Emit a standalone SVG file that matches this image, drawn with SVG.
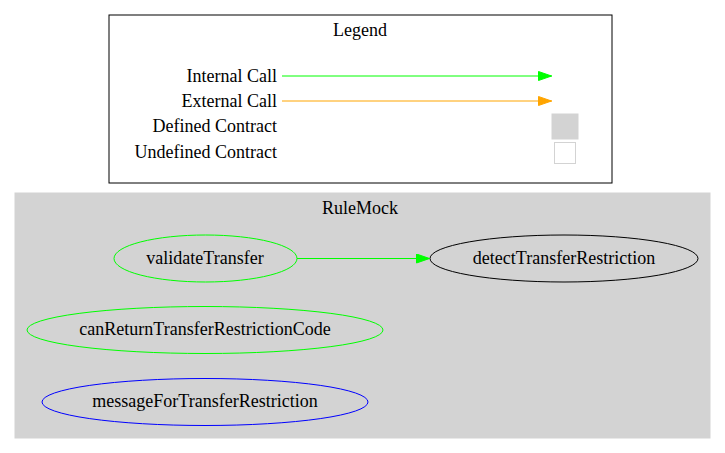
<svg xmlns="http://www.w3.org/2000/svg" width="725" height="453" viewBox="0 0 725 453">
<style>
text{font-family:'Liberation Serif','Times New Roman',Times,serif;font-size:18px;fill:#000}
.c{text-anchor:middle}
.r{text-anchor:end}
.n{fill:none;stroke-width:1}
</style>
<defs>
<marker id="ag" markerWidth="14" markerHeight="10" refX="14" refY="5" orient="auto" markerUnits="userSpaceOnUse"><path d="M0.5,0.5L13.5,5L0.5,9.5z" fill="#00ff00" stroke="#00ff00"/></marker>
<marker id="ao" markerWidth="14" markerHeight="10" refX="14" refY="5" orient="auto" markerUnits="userSpaceOnUse"><path d="M0.5,0.5L13.5,5L0.5,9.5z" fill="#ffa500" stroke="#ffa500"/></marker>
</defs>
<rect width="725" height="453" fill="#fff"/>
<g id="legend">
<rect x="109" y="15" width="503" height="168" fill="none" stroke="#000"/>
<text class="c" x="360" y="36">Legend</text>
<text class="r" x="277" y="82">Internal Call</text>
<text class="r" x="277" y="107">External Call</text>
<text class="r" x="277" y="132">Defined Contract</text>
<text class="r" x="277" y="158">Undefined Contract</text>
<line x1="282" y1="76" x2="552" y2="76" stroke="#00ff00" marker-end="url(#ag)"/>
<line x1="282" y1="101" x2="552" y2="101" stroke="#ffa500" marker-end="url(#ao)"/>
<rect x="552" y="114" width="26" height="25" fill="#d3d3d3" stroke="#d3d3d3"/>
<rect x="554.5" y="142.5" width="21" height="21" fill="#fff" stroke="#d3d3d3"/>
</g>
<g id="cluster_RuleMock">
<rect x="15" y="193" width="695" height="245" fill="#d3d3d3" stroke="#d3d3d3"/>
<text class="c" x="360" y="214">RuleMock</text>
</g>
<g id="validateTransfer">
<ellipse class="n" cx="205.5" cy="258.5" rx="91.5" ry="23.5" stroke="#00ff00"/>
<text class="c" x="205" y="264">validateTransfer</text>
</g>
<g id="detectTransferRestriction">
<ellipse class="n" cx="564" cy="258.5" rx="134" ry="23.5" stroke="#000"/>
<text class="c" x="564" y="264">detectTransferRestriction</text>
</g>
<g id="canReturnTransferRestrictionCode">
<ellipse class="n" cx="205" cy="330" rx="178" ry="23.5" stroke="#00ff00"/>
<text class="c" x="205" y="335">canReturnTransferRestrictionCode</text>
</g>
<g id="messageForTransferRestriction">
<ellipse class="n" cx="205" cy="402" rx="163" ry="23.5" stroke="#0000ff"/>
<text class="c" x="205" y="407">messageForTransferRestriction</text>
</g>
<g id="edges">
<line x1="297" y1="258.5" x2="430" y2="258.5" stroke="#00ff00" marker-end="url(#ag)"/>
</g>
</svg>
